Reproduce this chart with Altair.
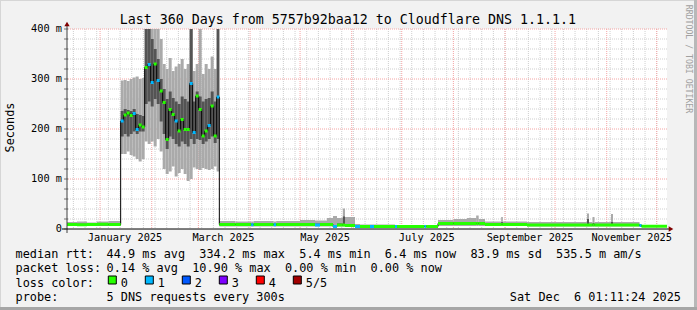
import altair as alt
import pandas as pd

# ---------------- data ----------------
START = pd.Timestamp("2024-12-12 04:00:00")
SPAN_DAYS = 360

# segment start, in days after START (each segment runs to the next start)
day = [0, 6, 12, 18, 25,
       32.2, 34.0, 35.8, 37.6, 39.4, 41.2, 43.0, 44.8, 46.6, 48.4, 50.2, 52.0, 53.8, 55.6,
       57.4, 59.2, 61.0, 62.8, 64.6, 66.4, 68.2, 70.0, 71.8, 73.6, 75.4, 77.2, 79.0, 80.8,
       82.6, 84.4, 86.2, 88.0, 89.8,
       91.4, 101, 110.5, 112, 124, 125.5, 139.8, 148.8, 151.8, 156, 159.6, 162, 165.5,
       166.8, 172.8, 175.8, 181.8, 184.2, 196.8, 198, 214.5, 215.5, 222.6, 232, 240, 245.5,
       247, 250.8, 260.5, 261.5, 276, 312, 313.2, 315.3, 316.5, 326.4, 327.6, 343.5, 344.7]
med = [9, 8.5, 9, 9.5, 9,
       216, 228, 232, 227, 231, 199, 208, 204, 323, 329, 293, 330, 297, 276,
       253, 179, 239, 229, 216, 196, 219, 199, 199, 291, 193, 266, 239, 186,
       196, 207, 246, 186, 264,
       9, 9, 8.5, 9, 8.5, 9, 9, 8, 9, 9, 5, 8, 8,
       7, 5, 5, 5, 5, 5, 5, 5, 5, 11, 11, 11, 11,
       11, 9, 9, 9, 8, 8, 8, 8, 8, 8, 8, 7, 5.5]
loss = [0, 0, 0, 0, 0,
        1, 0, 0, 0, 1, 1, 0, 0, 0, 1, 1, 0, 1, 0,
        0, 0, 0, 0, 1, 0, 0, 0, 0, 1, 1, 0, 0, 0,
        0, 1, 0, 0, 1,
        0, 0, 1, 0, 1, 0, 0, 1, 0, 0, 1, 0, 0,
        0, 1, 0, 1, 0, 1, 0, 1, 0, 0, 0, 0, 0,
        0, 0, 0, 0, 0, 0, 0, 0, 0, 0, 0, 1, 0]
p1 = [6, 6, 6, 6, 6,
      150, 150, 155, 148, 145, 140, 135, 140, 175, 170, 175, 165, 180, 155,
      120, 110, 115, 125, 105, 112, 120, 110, 96, 100, 123, 120, 118, 122,
      120, 118, 120, 125, 115,
      5, 5, 5, 5, 5, 5, 5, 5, 5, 5, 4, 5, 5,
      5, 4, 4, 4, 4, 4, 4, 4, 4, 6, 6, 6, 6,
      6, 6, 6, 6, 5, 5, 5, 5, 5, 5, 5, 5, 4]
p2 = [7, 7, 7, 7, 7,
      185, 190, 185, 190, 195, 190, 195, 195, 250, 255, 245, 260, 250, 215,
      190, 160, 185, 180, 170, 165, 175, 170, 165, 180, 170, 180, 178, 170,
      175, 180, 185, 172, 180,
      7, 7, 7, 7, 7, 7, 7, 7, 7, 7, 4, 6, 6,
      6, 4, 4, 4, 4, 4, 4, 4, 4, 9, 9, 9, 9,
      9, 8, 8, 8, 7, 7, 7, 7, 7, 7, 7, 6, 5]
p4 = [10.5, 10.5, 10.5, 10.5, 10.5,
      236, 240, 238, 236, 240, 230, 228, 226, 420, 420, 380, 360, 340, 300,
      280, 260, 275, 262, 255, 250, 265, 260, 255, 420, 255, 275, 265, 255,
      260, 262, 275, 255, 420,
      11, 11, 11, 11, 11, 11, 11, 11, 11, 12, 8, 11, 25,
      10, 7, 7, 7, 7, 7, 7, 7, 7, 14, 14, 14, 14,
      14, 12, 14, 12, 10, 20, 10, 12, 10, 14, 10, 9, 7]
p5 = [14, 15, 13, 15, 16,
      297, 298, 296, 300, 303, 305, 300, 302, 420, 420, 420, 420, 420, 380,
      330, 320, 342, 316, 325, 330, 340, 320, 330, 420, 316, 330, 420, 310,
      330, 320, 345, 320, 420,
      16, 15, 15, 16, 15, 16, 18, 17, 17, 22, 26, 22, 41,
      24, 10, 9, 9, 9, 8, 8, 8, 8, 18, 20, 22, 27,
      20, 15, 24, 15, 14, 31, 14, 24, 14, 30, 14, 10, 8]

loss_labels = ["0", "1", "2", "3", "4", "5/5"]
loss_colors = ["#26ff00", "#00b8ff", "#0059ff", "#7e00ff", "#ff0000", "#a10000"]

y_ticks = [0, 100, 200, 300, 400]
y_tick_labels = ["0\u00a0\u00a0", "100 m", "200 m", "300 m", "400 m"]
x_label_months = ["2025-01-16", "2025-03-16", "2025-05-16", "2025-07-16", "2025-09-16", "2025-11-16"]

title = "Last 360 Days from 5757b92baa12 to Cloudflare DNS 1.1.1.1"
rtt_label = "median rtt:"
rtt_items = ["44.9 ms avg", "334.2 ms max", "5.4 ms min", "6.4 ms now",
             "83.9 ms sd", "535.5 m am/s"]
loss_label = "packet loss:"
loss_items = ["0.14 % avg", "10.90 % max", "0.00 % min", "0.00 % now"]
loss_row_label = "loss color:"
probe_label = "probe:"
probe_items = ["5 DNS requests every 300s"]
stamp = "Sat Dec  6 01:11:24 2025"
credit = "RRDTOOL / TOBI OETIKER"

# ---------------- build tables ----------------
W, H = 600, 200
OX, OY = 67, 29
END = START + pd.Timedelta(days=SPAN_DAYS)
ms = lambda ts: int(pd.Timestamp(ts).value // 10**6)
t0 = [ms(START + pd.Timedelta(days=d)) for d in day]
t1 = t0[1:] + [ms(END)]
df = pd.DataFrame({"t0": t0, "t1": t1, "p1": p1, "p2": p2, "med": med,
                   "p4": p4, "p5": p5, "loss": loss})
line_df = pd.concat([df[["t0", "med"]],
                     pd.DataFrame({"t0": [ms(END)], "med": [med[-1]]})])

xs = alt.Scale(domain=[ms(START), ms(END)])
ys = alt.Scale(domain=[0, 400])
NB = "\u00a0"
FONT = "DejaVu Sans Mono"
LF = 11.85
CW = 7.135  # advance of one legend character


def X(f):
    return alt.X(f, type="temporal", scale=xs, axis=None)


def Y(f):
    return alt.Y(f, type="quantitative", scale=ys, axis=None)


one = pd.DataFrame({"a": [0]})
layers = []


def rect(x1, x2, y1, y2, color):
    layers.append(alt.Chart(one).mark_rect(color=color).encode(
        x=alt.value(x1), x2=alt.value(x2), y=alt.value(y1), y2=alt.value(y2)))


def text(s, x, y, size, align="left", color="#000", angle=0, baseline="alphabetic"):
    layers.append(alt.Chart(pd.DataFrame({"s": [s.replace(" ", NB)]})).mark_text(
        font=FONT, fontSize=size, align=align, baseline=baseline, color=color, angle=angle
    ).encode(x=alt.value(x), y=alt.value(y), text="s:N"))


def legend_row(label, items, y):
    """label at the left margin, items from the tab stop, two spaces apart"""
    text(label, 15.5 - OX, y - OY, LF)
    col = 0
    for s in items:
        text(s, 106.6 + col * CW - OX, y - OY, LF)
        col += len(s) + 2


# frame of the picture
rect(-OX, 697 - OX, -OY, -OY + 1, "#d6d6d6")
rect(-OX, -OX + 1, -OY, 310 - OY, "#d6d6d6")
rect(697 - OX - 3, 697 - OX, -OY, 310 - OY, "#b8b8b8")
rect(-OX, 697 - OX, 310 - OY - 3, 310 - OY, "#a6a6a6")

# grid
week_days = pd.date_range("2024-12-16", END, freq="7D")
month_days = pd.date_range("2025-01-01", END, freq="MS")
minor_x = pd.DataFrame({"t": [ms(d) for d in week_days]})
major_x = pd.DataFrame({"t": [ms(d) for d in month_days]})
minor_y = pd.DataFrame({"v": [v for v in range(20, 400, 20) if v % 100]})
major_y = pd.DataFrame({"v": [100, 200, 300, 400]})
GRID = "#cfcfcf"
MGRID = "#f4a4a4"
layers.append(alt.Chart(minor_x).mark_rule(color=GRID, strokeDash=[1, 1]).encode(x=X("t")))
layers.append(alt.Chart(minor_y).mark_rule(color=GRID, strokeDash=[1, 1]).encode(y=Y("v")))
layers.append(alt.Chart(major_x).mark_rule(color=MGRID, strokeDash=[1, 1]).encode(x=X("t")))
layers.append(alt.Chart(major_y).mark_rule(color=MGRID, strokeDash=[1, 1]).encode(y=Y("v")))

# smoke
layers.append(alt.Chart(df).mark_rect(color="#aaaaaa", clip=True).encode(
    x=X("t0"), x2="t1", y=Y("p1"), y2="p5"))
layers.append(alt.Chart(df).mark_rect(color="#545454", clip=True).encode(
    x=X("t0"), x2="t1", y=Y("p2"), y2="p4"))
# median
layers.append(alt.Chart(line_df).mark_line(interpolate="step-after", color="#000",
                                           strokeWidth=1, clip=True).encode(
    x=X("t0"), y=Y("med")))
layers.append(alt.Chart(df).mark_rule(strokeWidth=3, clip=True).encode(
    x=X("t0"), x2="t1", y=Y("med"),
    color=alt.Color("loss:O", scale=alt.Scale(domain=list(range(6)), range=loss_colors),
                    legend=None)))

# axes
layers.append(alt.Chart(one).mark_rule(color="#404040").encode(
    x=alt.value(0), y=alt.value(-4), y2=alt.value(H + 4)))
layers.append(alt.Chart(one).mark_rule(color="#000").encode(
    x=alt.value(-5), x2=alt.value(W + 3), y=alt.value(H)))
layers.append(alt.Chart(one).mark_point(shape="triangle-up", filled=True, color="#7f0000",
                                        size=28, opacity=1).encode(
    x=alt.value(0), y=alt.value(-5)))
layers.append(alt.Chart(one).mark_point(shape="triangle-right", filled=True, color="#7f0000",
                                        size=28, opacity=1).encode(
    x=alt.value(W + 4), y=alt.value(H)))
ytick_df = pd.DataFrame({"v": list(range(0, 401, 20))})
layers.append(alt.Chart(ytick_df).mark_tick(color="#404040", thickness=1, size=4,
                                            orient="horizontal").encode(
    y=Y("v"), x=alt.value(-1)))
ylab = pd.DataFrame({"v": y_ticks, "lab": [s.replace(" ", NB) for s in y_tick_labels]})
layers.append(alt.Chart(ylab).mark_text(font=FONT, fontSize=10.3, align="right",
                                        baseline="middle", color="#000").encode(
    y=Y("v"), x=alt.value(-5), text="lab:N"))
xlab = pd.DataFrame({"t": [ms(d) for d in x_label_months],
                     "lab": [pd.Timestamp(d).strftime("%B %Y").replace(" ", NB)
                             for d in x_label_months]})
layers.append(alt.Chart(xlab).mark_text(font=FONT, fontSize=10.3, align="center",
                                        baseline="alphabetic", color="#000").encode(
    x=X("t"), y=alt.value(241 - OY), text="lab:N"))

# texts
text(title, 347.8 - OX, 23.5 - OY, 13.3, align="center")
text("Seconds", 10 - OX, 127.5 - OY, LF, align="center", angle=270, baseline="middle")
text(credit, 688 - OX, 59 - OY, 8.2, align="center", color="#a0a0a0", angle=90,
     baseline="middle")
row_y = [258.3, 272.4, 286.5, 300.7]
legend_row(rtt_label, rtt_items, row_y[0])
legend_row(loss_label, loss_items, row_y[1])
legend_row(loss_row_label, [], row_y[2])
legend_row(probe_label, probe_items, row_y[3])
text(stamp, 681 - OX, row_y[3] - OY, LF, align="right")
for i, (lab, col) in enumerate(zip(loss_labels, loss_colors)):
    bx = 108.3 + 37 * i
    layers.append(alt.Chart(one).mark_rect(color=col, stroke="#000", strokeWidth=1).encode(
        x=alt.value(bx - OX), x2=alt.value(bx + 8 - OX),
        y=alt.value(276 - OY), y2=alt.value(284 - OY)))
    text(lab, bx + 12.5 - OX, row_y[2] - OY, LF)

chart = alt.layer(*layers).properties(
    width=W, height=H, background="#f2f2f2",
    padding={"left": OX, "top": OY, "right": 697 - OX - W, "bottom": 310 - OY - H},
    autosize=alt.AutoSizeParams(type="none"),
).configure_view(stroke=None, fill="white")

chart.save("out.html", embed_options={"renderer": "svg", "actions": False})
